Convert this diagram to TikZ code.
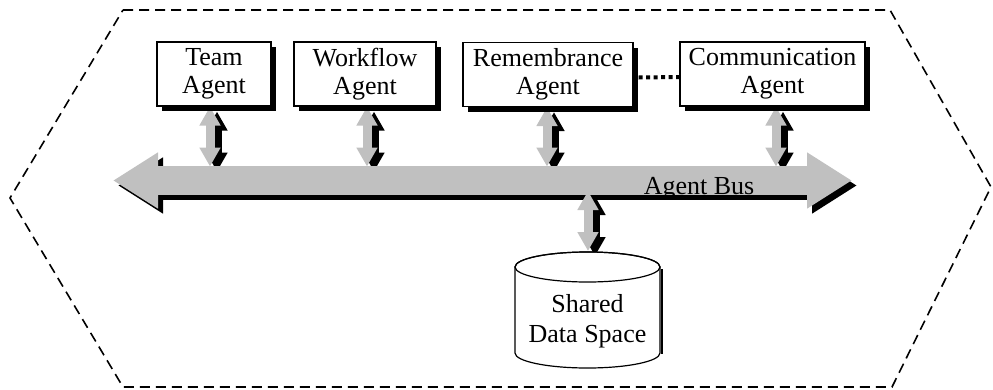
\documentclass[tikz,border=0pt]{standalone}
\usepackage{fontspec}
\setmainfont{Liberation Serif}
\usetikzlibrary{arrows.meta,shadows}
\pgfdeclarelayer{back}
\pgfsetlayers{back,main}
\definecolor{bargray}{RGB}{192,192,192}
\newcommand\fatlink[2]{%
  \draw[vlink, black] ([xshift=7pt,yshift=-5pt]#1) -- ([xshift=7pt,yshift=-5pt]#2);
  \draw[vlink, bargray] (#1) -- (#2);}
\begin{document}
\begin{tikzpicture}[x=1pt,y=-1pt,
  agentbox/.style={draw, line width=1.2pt, fill=white, align=center, inner sep=0pt,
    font=\fontsize{26}{28}\selectfont,
    general shadow={fill=black, shadow xshift=5pt, shadow yshift=-5pt}},
  hexline/.style={line width=1.6pt, dash pattern=on 10pt off 6pt},
  vlink/.style={line width=9pt, {Triangle[length=19pt,width=20pt]}-{Triangle[length=19pt,width=20pt]}},
  buslink/.style={line width=29pt, {Triangle[length=45pt,width=53pt]}-{Triangle[length=45pt,width=53pt]}},
  dotlink/.style={line width=4pt, dash pattern=on 4pt off 3.5pt},
  labeltext/.style={font=\fontsize{26}{30}\selectfont, align=center, inner sep=0pt},
  cyl/.style={line width=1.2pt, fill=white}]
\useasboundingbox (0,0) rectangle (993,389);

% agent boxes
\node[agentbox, minimum width=114pt, minimum height=64pt] (team) at (214,74) {Team\\Agent};
\node[agentbox, minimum width=142pt, minimum height=64pt] (work) at (365,74) {Workflow\\Agent};
\node[agentbox, minimum width=170pt, minimum height=64pt] (rem) at (548,74.5) {Remembrance\\Agent};
\node[agentbox, minimum width=185pt, minimum height=64pt] (com) at (772.5,74) {Communication\\Agent};

% coordinates
\coordinate (busL) at (113,180.5);
\coordinate (busR) at (852,180.5);
\coordinate (bustop) at (0,166.5);
\coordinate (ta1) at ([xshift=-4pt]team.south);
\coordinate (ta2) at (ta1 |- bustop);
\coordinate (wa1) at ([xshift=2pt]work.south);
\coordinate (wa2) at (wa1 |- bustop);
\coordinate (ra1) at ([xshift=-1pt]rem.south);
\coordinate (ra2) at (ra1 |- bustop);
\coordinate (ca1) at ([xshift=3.5pt]com.south);
\coordinate (ca2) at (ca1 |- bustop);
\coordinate (dbbus) at (588,191);
\coordinate (dbtop) at (588,251);

\begin{pgfonlayer}{back}
  \draw[hexline] (123,10) -- (890,10) -- (991,187) -- (892,387) -- (123,387) -- (10,198) -- cycle;
  \fatlink{ta1}{ta2}
  \fatlink{wa1}{wa2}
  \fatlink{ra1}{ra2}
  \fatlink{ca1}{ca2}
  \draw[buslink, black] ([xshift=5pt,yshift=-5pt]busL) -- ([xshift=5pt,yshift=-5pt]busR);
  \draw[buslink, bargray] (busL) -- (busR);
  \fatlink{dbbus}{dbtop}
\end{pgfonlayer}

\node[labeltext, anchor=base] (buslabel) at (699,194) {Agent Bus};

% dotted link between remembrance and communication
\draw[dotlink] ([xshift=5pt,yshift=-3pt]rem.east) -- ([yshift=-3pt]com.west);

% shared data space cylinder
\draw[line width=2pt] (662,269) -- (662,354);
\draw[cyl] (515,267) -- (515,353) arc[start angle=180, end angle=0, x radius=72.5, y radius=15]
  -- (660,267) arc[start angle=0, end angle=-180, x radius=72.5, y radius=15] -- cycle;
\draw[line width=1.2pt] (587.5,267) ellipse[x radius=72.5, y radius=15];
\node[labeltext] (db) at (587.5,321) {Shared\\Data Space};
\end{tikzpicture}
\end{document}
